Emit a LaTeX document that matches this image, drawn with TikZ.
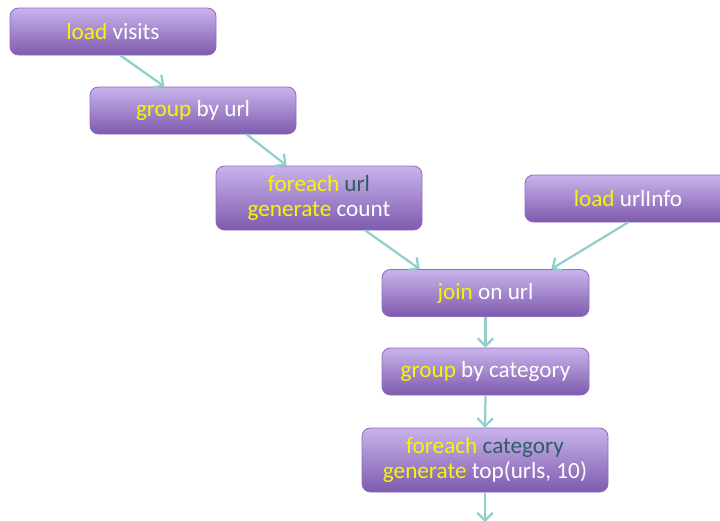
\documentclass[tikz,border=0pt]{standalone}
\usepackage{fontspec}
\setmainfont{Carlito}
\usepackage{xcolor}
\usetikzlibrary{arrows.meta,positioning,calc}

\definecolor{boxtop}{HTML}{C9B3EC}
\definecolor{boxbot}{HTML}{7E5BAE}
\definecolor{boxline}{HTML}{8E6CBA}
\definecolor{flow}{HTML}{8FCFCC}
\definecolor{kw}{HTML}{F6F600}
\definecolor{var}{HTML}{2E5E62}

\newcommand{\kw}[1]{\textcolor{kw}{#1}}
\newcommand{\vr}[1]{\textcolor{var}{#1}}

\tikzset{
  opbox/.style={draw=boxline, line width=0.6pt, rounded corners=6pt,
    top color=boxtop, bottom color=boxbot, text=white, align=center,
    minimum width=206*0.025cm, minimum height=47*0.025cm, inner sep=0pt,
    font=\fontsize{16.5}{17.2}\selectfont},
  flowarrow/.style={-{Straight Barb[length=5.5pt,width=11pt]}, flow, line width=1.6pt}
}

\begin{document}
\begin{tikzpicture}[x=0.025cm, y=-0.025cm]
  \clip (0,0) rectangle (720,520);
  % operators of the script
  \node[opbox] (visits) at (113,31.5) {\kw{load} visits};
  \node[opbox] (byurl) at (193,110.5) {\kw{group} by url};
  \node[opbox, minimum height=64*0.025cm] (count) at (319,198) {\kw{foreach} \vr{url}\\\kw{generate} count};
  \node[opbox] (urlinfo) at (628,198.5) {\kw{load} urlInfo};
  \node[opbox, minimum width=207*0.025cm] (join) at (485.5,293) {\kw{join} on url};
  \node[opbox, minimum width=207*0.025cm] (bycat) at (485.5,371.5) {\kw{group} by category};
  \node[opbox, minimum width=246*0.025cm, minimum height=64*0.025cm] (top) at (485,460) {\kw{foreach} \vr{category}\\\kw{generate} top(urls, 10)};
  \coordinate (out) at (485,522);
  % data flow
  \draw[flowarrow] (visits.-73) -- (byurl.140);
  \draw[flowarrow] (byurl.-24) -- (count.135);
  \draw[flowarrow] (count.-35) -- (join.160);
  \draw[flowarrow] (urlinfo.south) -- (join.20);
  \draw[flowarrow] (join.south) -- (bycat.north);
  \draw[flowarrow] (bycat.south) -- (top.north);
  \draw[flowarrow] (top.south) -- (out);
\end{tikzpicture}
\end{document}
